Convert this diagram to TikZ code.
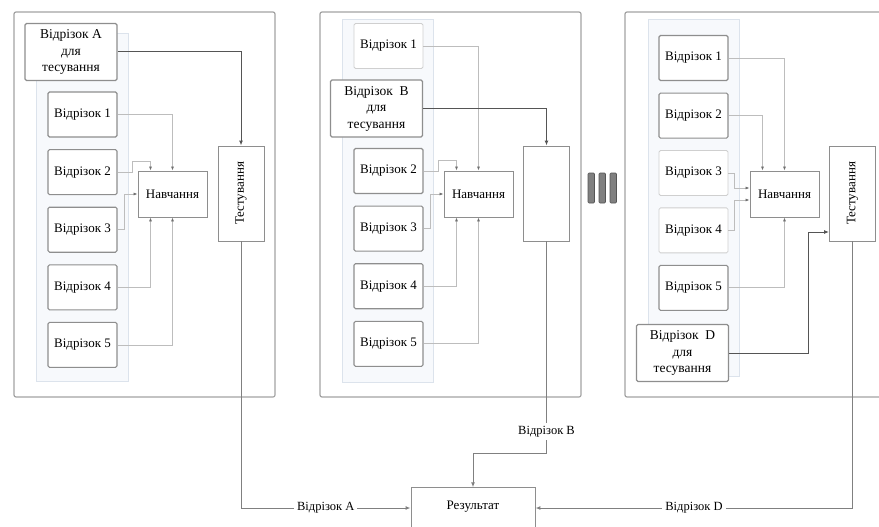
\documentclass[tikz,border=0pt]{standalone}
\usepackage{fontspec}
\setmainfont{Liberation Serif}
\usepackage{graphicx}
\usetikzlibrary{arrows.meta,positioning}

\definecolor{boxgray}{HTML}{8E8E8E}
\definecolor{faintgray}{HTML}{CFCFCF}
\definecolor{linegray}{HTML}{BDBDBD}
\definecolor{tipgray}{HTML}{707070}
\definecolor{darkline}{HTML}{555555}
\definecolor{panelgray}{HTML}{A3A3A3}
\definecolor{bgfill}{HTML}{F7F9FC}
\definecolor{bgline}{HTML}{DCE3EC}

\begin{document}
\begin{tikzpicture}[
  x=1pt, y=-1pt,
  node distance=11.5pt,
  >=Latex,
  font=\fontsize{13}{16}\selectfont,
  seg/.style={rectangle, draw=boxgray, line width=1.1pt, rounded corners=1.5pt, fill=white, minimum width=69pt, minimum height=45pt, inner sep=1pt},
  segfaint/.style={seg, draw=faintgray, line width=0.8pt},
  testseg/.style={seg, minimum width=92pt, minimum height=57pt, align=center, font=\fontsize{13.5}{16.5}\selectfont},
  learn/.style={rectangle, draw=boxgray, line width=0.9pt, fill=white, minimum width=69pt, minimum height=46pt, inner sep=1pt},
  check/.style={learn, minimum width=46pt, minimum height=95pt},
  result/.style={rectangle, draw=boxgray, line width=0.9pt, fill=white, minimum width=124pt, inner sep=4pt, text height=17.5pt, text depth=15pt},
  panel/.style={draw=panelgray, line width=1.2pt, rounded corners=2pt},
  backdrop/.style={draw=bgline, fill=bgfill, line width=0.7pt},
  feed/.style={draw=linegray, line width=0.7pt, -{Latex[length=4pt,width=3pt,color=tipgray]}},
  dark/.style={draw=darkline, line width=1pt, -{Latex[length=5pt,width=4pt]}},
  tag/.style={fill=white, inner sep=3pt, font=\fontsize{12.5}{15}\selectfont}
]
\clip (0,0) rectangle (879,527);

% panels
\draw[panel] (14,12) rectangle (275,397);
\draw[panel] (320,12) rectangle (581,397);
\draw[panel] (625,12) rectangle (890,397);
\draw[backdrop] (36,33) rectangle (128,381);
\draw[backdrop] (342,19) rectangle (433,382);
\draw[backdrop] (648,19) rectangle (739,376);

% separator
\foreach \bx in {588,599,610}
  \draw[darkline, fill=gray, line width=0.6pt, rounded corners=1pt] (\bx,173) rectangle ++(6.5,30);

% first fold
\node[testseg] (ta) at (71,52) {Відрізок A\\для\\тесування};
\node[seg] (a1) at (82.5,114.5) {Відрізок 1};
\node[seg, below=of a1] (a2) {Відрізок 2};
\node[seg, below=of a2] (a3) {Відрізок 3};
\node[seg, below=of a3] (a4) {Відрізок 4};
\node[seg, below=of a4] (a5) {Відрізок 5};
\node[learn] (la) at (172.5,194) {Навчання};
\node[check] (testA) at (241,193.5) {\rotatebox{90}{Тестування}};

% second fold
\node[segfaint] (b1) at (388.5,46) {Відрізок 1};
\node[testseg] (tb) at (376.5,108.5) {Відрізок\enspace B\\для\\тесування};
\node[seg] (b2) at (388.5,171) {Відрізок 2};
\node[seg, below=of b2] (b3) {Відрізок 3};
\node[seg, below=of b3] (b4) {Відрізок 4};
\node[seg, below=of b4] (b5) {Відрізок 5};
\node[learn] (lb) at (478.5,194) {Навчання};
\node[check] (testB) at (546.5,193.5) {};

% last fold
\node[seg] (c1) at (693.5,58) {Відрізок 1};
\node[seg, below=of c1] (c2) {Відрізок 2};
\node[segfaint, below=of c2] (c3) {Відрізок 3};
\node[segfaint, below=of c3] (c4) {Відрізок 4};
\node[seg, below=of c4] (c5) {Відрізок 5};
\node[testseg] (td) at (682.5,353) {Відрізок\enspace D\\для\\тесування};
\node[learn] (lc) at (784.5,194) {Навчання};
\node[check] (testC) at (852.5,193.5) {\rotatebox{90}{Тестування}};

\node[result] (res) at (473,508) {Результат};
\coordinate (bturn) at (546.5,453);

% training inputs
\draw[feed] (a1) -| (la.north);
\draw[feed] (a2.east) -- ++(15,0) -- ++(0,-11) -| ([xshift=-22pt]la.north);
\draw[feed] (a3.east) -- ++(7,0) |- (la.west);
\draw[feed] (a4) -| ([xshift=-22pt]la.south);
\draw[feed] (a5) -| (la.south);

\draw[feed] (b1) -| (lb.north);
\draw[feed] (b2.east) -- ++(15,0) -- ++(0,-11) -| ([xshift=-22pt]lb.north);
\draw[feed] (b3.east) -- ++(7,0) |- (lb.west);
\draw[feed] (b4) -| ([xshift=-22pt]lb.south);
\draw[feed] (b5) -| (lb.south);

\draw[feed] (c1) -| (lc.north);
\draw[feed] (c2) -| ([xshift=-22pt]lc.north);
\draw[feed] (c3.east) -- ++(6,0) |- ([yshift=6pt]lc.west);
\draw[feed] (c4.east) -- ++(6,0) |- ([yshift=-6pt]lc.west);
\draw[feed] (c5) -| (lc.south);

% testing inputs
\draw[dark] (ta) -| (testA.north);
\draw[dark] (tb) -| (testB.north);
\draw[dark] (td.east) -- ++(79,0) |- ([yshift=-38.5pt]testC.west);

% results
\draw[dark, draw=gray] (testA) |- (res) node[tag, pos=0.75] {Відрізок A};
\draw[dark, draw=gray] (testB) -- (bturn) node[tag, pos=0.9] {Відрізок B} -| (res);
\draw[dark, draw=gray] (testC) |- (res) node[tag, pos=0.75] {Відрізок D};
\end{tikzpicture}
\end{document}
